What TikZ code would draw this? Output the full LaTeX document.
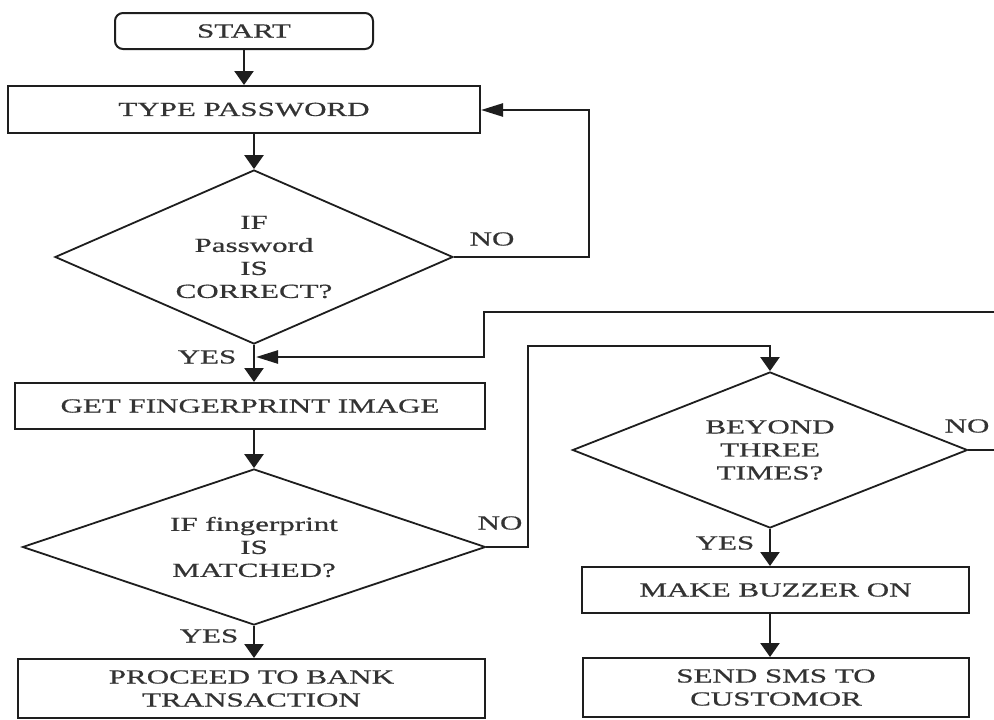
\documentclass[tikz,border=0pt]{standalone}
\usepackage{fontspec}
\setmainfont[FakeStretch=1.55,FakeBold=0.6]{Liberation Serif}
\usetikzlibrary{shapes.geometric,arrows.meta}
\definecolor{linec}{HTML}{1E1E1E}
\definecolor{textc}{HTML}{333333}
\begin{document}
\begin{tikzpicture}[x=1pt,y=-1pt,
  txt/.style={font=\fontsize{20}{23}\selectfont, text=textc},
  box/.style={txt, draw=linec, line width=2pt, rectangle, inner sep=0pt, align=center},
  term/.style={box, rounded corners=8pt},
  decide/.style={txt, draw=linec, line width=1.8pt, diamond, aspect=2.5, inner sep=0pt, align=center},
  conn/.style={draw=linec, line width=2.4pt},
  downarr/.style={conn, -{Triangle[length=14pt,width=19pt]}},
  sidearr/.style={conn, -{Triangle[length=22pt,width=13pt]}},
  lab/.style={txt, inner sep=0pt}]
\fill[white] (0,0) rectangle (994,720);
\useasboundingbox (0,0) rectangle (994,720);

% nodes
\node[term, minimum width=258pt, minimum height=36pt] (start) at (244,31) {START};
\node[box, minimum width=472pt, minimum height=47pt] (tp) at (244,109.5) {TYPE PASSWORD};
\node[decide, minimum width=398pt, minimum height=174pt] (d1) at (254,257) {IF\\Password\\IS\\CORRECT?};
\node[box, minimum width=470pt, minimum height=46pt] (gfi) at (250,406) {GET FINGERPRINT IMAGE};
\node[decide, minimum width=463pt, minimum height=156pt] (d2) at (254,547) {IF fingerprint\\IS\\MATCHED?};
\node[box, minimum width=467pt, minimum height=59pt] (pr) at (251.5,688.5) {PROCEED TO BANK\\TRANSACTION};
\node[decide, minimum width=395pt, minimum height=156pt] (d3) at (770,450) {BEYOND\\THREE\\TIMES?};
\node[box, minimum width=387pt, minimum height=46pt] (mb) at (775.5,590) {MAKE BUZZER ON};
\node[box, minimum width=386pt, minimum height=59pt] (sms) at (776,687.5) {SEND SMS TO\\CUSTOMOR};

% labels
\node[lab] (no1) at (492,239) {NO};
\node[lab] (yes1) at (207,357) {YES};
\node[lab] (no2) at (500,523) {NO};
\node[lab] (yes2) at (209,636) {YES};
\node[lab] (no3) at (967,426) {NO};
\node[lab] (yes3) at (725,543) {YES};

% helper coordinates
\coordinate (loop1) at (589,110);
\coordinate (fbR) at (1000,312);
\coordinate (fbL) at (484,312);
\coordinate (j1) at (256,357);
\coordinate (c2a) at (528,346);

% connectors
\draw[downarr] (start.south) -- (tp.north);
\draw[downarr] (d1.north |- tp.south) -- (d1.north);
\draw[sidearr] (d1.east) -| (loop1) -- (tp.east |- loop1);
\draw[downarr] (d1.south) -- (d1.south |- gfi.north);
\draw[sidearr] (d3.east) -| (fbR) -- (fbL) |- (j1);
\draw[downarr] (d2.north |- gfi.south) -- (d2.north);
\draw[downarr] (d2.east) -| (c2a) -| (d3.north);
\draw[downarr] (d2.south) -- (d2.south |- pr.north);
\draw[downarr] (d3.south) -- (d3.south |- mb.north);
\draw[downarr] (d3.south |- mb.south) -- (d3.south |- sms.north);
\end{tikzpicture}
\end{document}
